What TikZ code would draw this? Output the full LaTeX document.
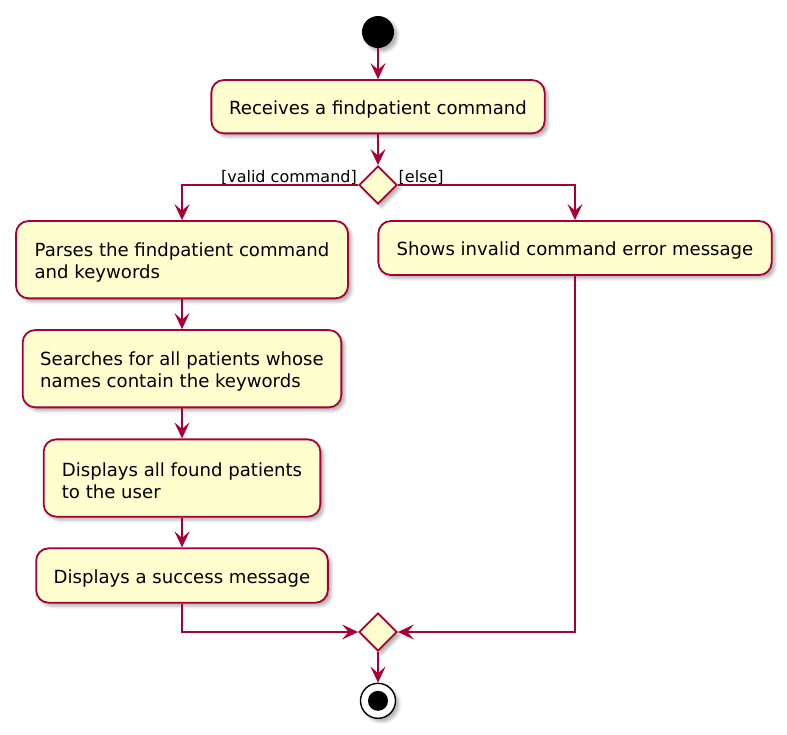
\documentclass[tikz,border=0pt]{standalone}
\usepackage{fontspec}
\setmainfont{DejaVu Sans}
\usetikzlibrary{arrows.meta,shadows.blur,shapes.geometric}
\definecolor{umlred}{HTML}{A80036}
\definecolor{umlfill}{HTML}{FEFECE}
\newcommand\upstrut{\rule{0pt}{19.5pt}}
\tikzset{
  umlshadow/.style={blur shadow={shadow xshift=3.5pt, shadow yshift=-3.5pt, shadow blur radius=3pt, shadow opacity=30}},
  act/.style={draw=umlred, fill=umlfill, line width=1.8pt, rounded corners=12.5pt,
    align=left, inner sep=0pt, font=\fontsize{18.1}{22.6}\selectfont, umlshadow},
  dec/.style={draw=umlred, fill=umlfill, line width=1.8pt, diamond, minimum width=38pt,
    minimum height=38pt, inner sep=0pt, umlshadow},
  flow/.style={draw=umlred, line width=1.8pt, -{Stealth[length=16pt,width=15pt,inset=6.5pt]}},
  guard/.style={font=\fontsize{16}{19}\selectfont, inner sep=0pt},
}
\begin{document}
\begin{tikzpicture}[x=1pt,y=-1pt]
\useasboundingbox (0,0) rectangle (787,734);
\node[circle, fill=black, minimum size=32pt, inner sep=0pt, umlshadow] (start) at (378,32) {};
\node[act, minimum width=333.3pt, minimum height=53.3pt] (b1) at (378,106.7) {\upstrut Receives a findpatient command};
\node[dec] (d1) at (378,185) {};
\node[guard, anchor=base east] (lv) at (357,182) {[valid command]};
\node[guard, anchor=base west] (le) at (398.5,182) {[else]};
\node[act, minimum width=332pt, minimum height=77.3pt] (b2) at (182,259.7) {\upstrut Parses the findpatient command\\and keywords};
\node[act, minimum width=393.3pt, minimum height=54pt] (b3) at (575,248) {\upstrut Shows invalid command error message};
\node[act, minimum width=318.7pt, minimum height=77.3pt] (b4) at (182,368.7) {\upstrut Searches for all patients whose\\names contain the keywords};
\node[act, minimum width=276.7pt, minimum height=77.3pt] (b5) at (182,478) {\upstrut Displays all found patients\\to the user};
\node[act, minimum width=291.7pt, minimum height=54.4pt] (b6) at (182,575.5) {\upstrut Displays a success message};
\node[dec] (d2) at (378,632) {};
\node[circle, draw=black, fill=white, line width=1.4pt, minimum size=35pt, inner sep=0pt, umlshadow] (end) at (378,700.8) {};
\node[circle, fill=black, minimum size=20pt, inner sep=0pt] (endin) at (end) {};
\draw[flow] (start) -- (b1);
\draw[flow] (b1) -- (d1);
\draw[flow] (d1.west) -| (b2.north);
\draw[flow] (d1.east) -| (b3.north);
\draw[flow] (b2) -- (b4);
\draw[flow] (b4) -- (b5);
\draw[flow] (b5) -- (b6);
\draw[flow] (b6.south) |- (d2.west);
\draw[flow] (b3.south) |- (d2.east);
\draw[flow] (d2) -- (end);
\end{tikzpicture}
\end{document}
